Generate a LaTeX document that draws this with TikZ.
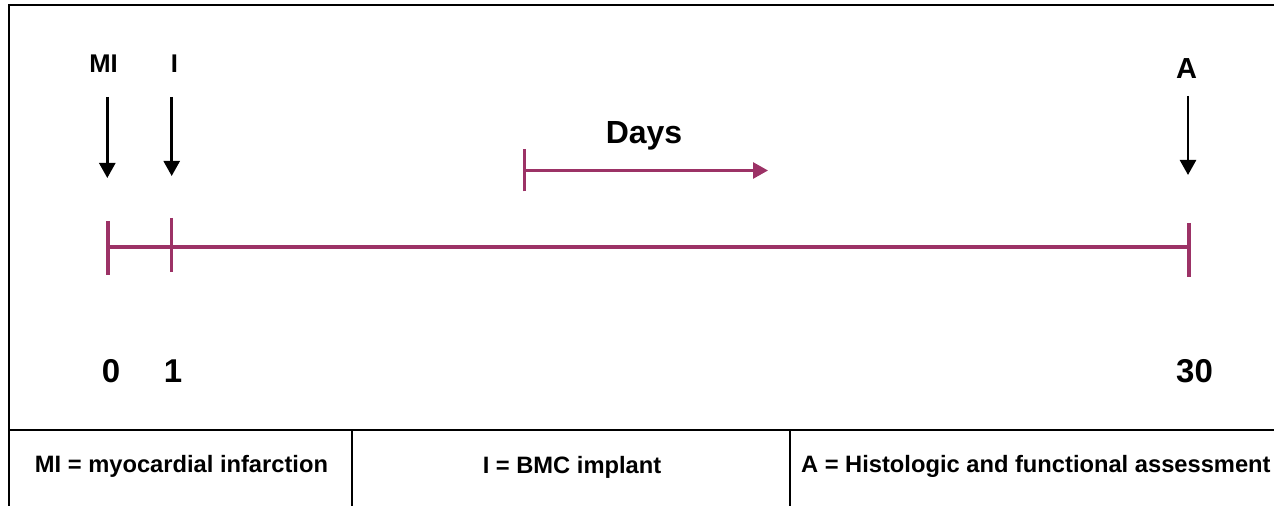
\documentclass[tikz,border=0pt]{standalone}
\usepackage{fontspec}
\setmainfont{Liberation Sans}
\usetikzlibrary{arrows.meta}
\definecolor{timeplum}{RGB}{156,50,102}

\tikzset{
    plum line/.style={line width=1.8pt, timeplum},
    down arrow/.style={-{Triangle[length=7.5pt,width=8pt]}, line width=1.25pt, black},
    event label/.style={anchor=base, inner sep=0pt, font=\bfseries\fontsize{12.8}{15}\selectfont},
    day label/.style={anchor=base, inner sep=0pt, font=\bfseries\fontsize{16.5}{19}\selectfont},
    key label/.style={anchor=base, inner sep=0pt, font=\bfseries\fontsize{11.85}{14}\selectfont}
}

\begin{document}
\begin{tikzpicture}[x=0.5pt, y=-0.5pt]

    \useasboundingbox (0,0) rectangle (1274,506);

    % Marc i taula
    \draw[line width=1.3pt] (9,506) -- (9,5) -- (1280,5);
    \draw[line width=1pt] (9,430) -- (1280,430);
    \draw[line width=0.75pt] (352,430) -- (352,506);
    \draw[line width=0.75pt] (790,430) -- (790,506);

    % Esdeveniments
    \node[event label] (mi) at (103.5,73) {MI};
    \node[event label] (impl) at (174.5,73) {I};
    \node[event label, font=\bfseries\fontsize{14.5}{17}\selectfont] (assess) at (1186.5,79) {A};

    \coordinate (mi top) at (107.3,97);
    \coordinate (mi tip) at (107.3,178);
    \coordinate (impl top) at (171.7,97);
    \coordinate (impl tip) at (171.7,176);
    \coordinate (assess top) at (1188,96);
    \coordinate (assess tip) at (1188,175);

    \draw[down arrow] (mi top) -- (mi tip);
    \draw[down arrow] (impl top) -- (impl tip);
    \draw[down arrow] (assess top) -- (assess tip);

    % Sentit del temps
    \node[event label, font=\bfseries\fontsize{16}{19}\selectfont] (days) at (644,144) {Days};
    \coordinate (dir start) at (523,170.5);
    \coordinate (dir end) at (768,170.5);
    \draw[
        {Bar[width=21pt]}-{Triangle[length=7.5pt,width=8pt]},
        line width=1.4pt,
        timeplum
    ] (dir start) -- (dir end);

    % Eix temporal
    \coordinate (t0) at (108,247);
    \coordinate (t1) at (171.5,245);
    \coordinate (t30) at (1189,249);
    \draw[plum line] (108,221) -- (108,275);
    \draw[plum line] (t1) ++(0,-27) -- ++(0,54);
    \draw[plum line] (1189,223) -- (1189,277);
    \draw[plum line] (t0) -- (t30 |- t0);

    % Dies
    \node[day label] (d0) at (111,383) {0};
    \node[day label] (d1) at (173,383) {1};
    \node[day label] (d30) at (1194.5,383) {30};

    % Llegenda
    \node[key label] (key mi) at (181.5,473) {MI = myocardial infarction};
    \node[key label] (key impl) at (572,474) {I = BMC implant};
    \node[key label, anchor=base west] (key assess) at (800.7,473) {A = Histologic and functional assessment};

\end{tikzpicture}
\end{document}
